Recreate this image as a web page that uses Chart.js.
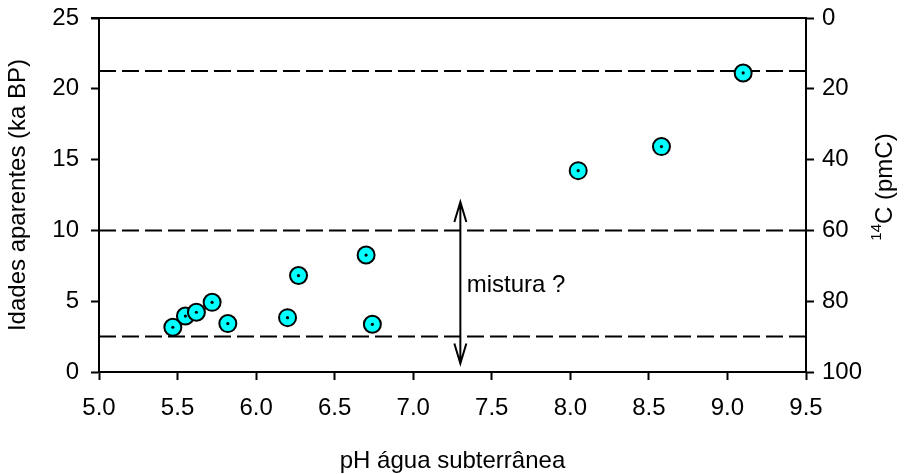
<!DOCTYPE html>
<html>
<head>
<meta charset="utf-8">
<script src="https://cdn.jsdelivr.net/npm/chart.js@4.4.1/dist/chart.umd.min.js"></script>
<style>
  html, body { margin: 0; padding: 0; background: #fff; }
  #ageChart { display: block; }
</style>
</head>
<body>
<canvas id="ageChart" width="906" height="474"></canvas>
<script>
// pH vs apparent age of groundwater samples
const phValues  = [5.47, 5.55, 5.62, 5.72, 5.82, 6.20, 6.27, 6.70, 6.74, 8.05, 8.58, 9.10];
const ageValues = [3.16, 3.95, 4.22, 4.92, 3.42, 3.84, 6.81, 8.26, 3.37, 14.22, 15.92, 21.12];

// reference ages (dashed lines): 90, 60 and 15 pmC
const refAges = [2.5, 10, 21.25];

// mixing arrow and its note
const arrowPh = 7.3;
const arrowRange = [0.6, 12];
const noteText = 'mistura ?';
const notePos = [7.34, 6.1];

const xTicks = [5.0, 5.5, 6.0, 6.5, 7.0, 7.5, 8.0, 8.5, 9.0, 9.5];
const ageTicks = [0, 5, 10, 15, 20, 25];
const pmcTicks = [0, 20, 40, 60, 80, 100];

const FONT = "'Liberation Sans', Arial, sans-serif";
const FS = 24;

const points = phValues.map((x, i) => ({ x: x, y: ageValues[i] }));

const refDatasets = refAges.map(a => ({
  type: 'line',
  data: [{ x: xTicks[0], y: a }, { x: xTicks[xTicks.length - 1], y: a }],
  borderColor: '#000',
  borderWidth: 2,
  borderDash: [17, 6],
  pointRadius: 0,
  fill: false,
  order: 3
}));

// fixed axis sizes so the plot box does not move with label sizes
function fixSize(prop, size) {
  return s => {
    s[prop] = size;
    s.paddingTop = s.paddingBottom = s.paddingLeft = s.paddingRight = 0;
  };
}

// frame top edge, arrow, note and right-hand title
const extras = {
  id: 'extras',
  afterDatasetsDraw(chart) {
    const { ctx, chartArea, scales } = chart;
    const x = scales.x, y = scales.y;
    ctx.save();
    ctx.strokeStyle = '#000';
    ctx.lineWidth = 2;
    ctx.beginPath();
    ctx.moveTo(chartArea.left - 8, chartArea.top);
    ctx.lineTo(chartArea.right, chartArea.top);
    ctx.stroke();

    // double-headed arrow
    const ax = x.getPixelForValue(arrowPh);
    const yLo = y.getPixelForValue(arrowRange[0]);
    const yHi = y.getPixelForValue(arrowRange[1]);
    ctx.beginPath();
    ctx.moveTo(ax, yLo);
    ctx.lineTo(ax, yHi);
    ctx.moveTo(ax - 6, yHi + 20);
    ctx.lineTo(ax, yHi);
    ctx.lineTo(ax + 6, yHi + 20);
    ctx.moveTo(ax - 6, yLo - 20);
    ctx.lineTo(ax, yLo);
    ctx.lineTo(ax + 6, yLo - 20);
    ctx.stroke();

    ctx.fillStyle = '#000';
    ctx.font = FS + 'px ' + FONT;
    ctx.textAlign = 'left';
    ctx.textBaseline = 'middle';
    ctx.fillText(noteText, x.getPixelForValue(notePos[0]), y.getPixelForValue(notePos[1]));

    // rotated title with superscript 14
    ctx.translate(885, (chartArea.top + chartArea.bottom) / 2 - 8);
    ctx.rotate(-Math.PI / 2);
    ctx.textBaseline = 'middle';
    const supFont = '15px ' + FONT;
    const mainFont = FS + 'px ' + FONT;
    ctx.font = supFont;
    const wSup = ctx.measureText('14').width;
    ctx.font = mainFont;
    const wMain = ctx.measureText('C (pmC)').width;
    let start = -(wSup + wMain) / 2;
    ctx.font = supFont;
    ctx.fillText('14', start, -8);
    ctx.font = mainFont;
    ctx.fillText('C (pmC)', start + wSup, 0);
    ctx.restore();
  }
};

const chart = new Chart(document.getElementById('ageChart'), {
  type: 'scatter',
  data: {
    datasets: [
      {
        data: points,
        pointRadius: 8.5,
        pointBackgroundColor: '#00ffff',
        pointBorderColor: '#000',
        pointBorderWidth: 2,
        order: 2
      },
      {
        data: points,
        pointRadius: 1.6,
        pointBackgroundColor: '#000',
        pointBorderWidth: 0,
        order: 1
      },
      ...refDatasets
    ]
  },
  options: {
    responsive: false,
    animation: false,
    layout: { padding: { top: 18, left: 0, right: 0, bottom: 0 } },
    plugins: {
      legend: { display: false },
      tooltip: { enabled: false }
    },
    scales: {
      x: {
        type: 'linear',
        min: 5,
        max: 9.5,
        afterBuildTicks: s => { s.ticks = xTicks.map(v => ({ value: v })); },
        afterFit: fixSize('height', 102),
        ticks: {
          color: '#000',
          padding: 14,
          maxRotation: 0,
          font: { family: FONT, size: FS },
          callback: v => Number(v).toFixed(1)
        },
        grid: { drawOnChartArea: false, tickLength: 8, tickWidth: 2, color: '#000' },
        border: { color: '#000', width: 2 },
        title: {
          display: true,
          text: 'pH água subterrânea',
          color: '#000',
          font: { family: FONT, size: FS, lineHeight: 1 },
          padding: { top: 0, bottom: 1 }
        }
      },
      y: {
        type: 'linear',
        position: 'left',
        min: 0,
        max: 25,
        afterBuildTicks: s => { s.ticks = ageTicks.map(v => ({ value: v })); },
        afterFit: fixSize('width', 99),
        ticks: {
          color: '#000',
          padding: 12,
          font: { family: FONT, size: FS }
        },
        grid: { drawOnChartArea: false, tickLength: 8, tickWidth: 2, color: '#000' },
        border: { color: '#000', width: 2 },
        title: {
          display: true,
          text: 'Idades aparentes (ka BP)',
          color: '#000',
          font: { family: FONT, size: FS, lineHeight: 1 },
          padding: { top: 6, bottom: 0 }
        }
      },
      y2: {
        type: 'linear',
        position: 'right',
        reverse: true,
        min: 0,
        max: 100,
        afterBuildTicks: s => { s.ticks = pmcTicks.map(v => ({ value: v })); },
        afterFit: fixSize('width', 100),
        ticks: {
          color: '#000',
          padding: 8,
          font: { family: FONT, size: FS }
        },
        grid: { drawOnChartArea: false, tickLength: 8, tickWidth: 2, color: '#000' },
        border: { color: '#000', width: 2 }
      }
    }
  },
  plugins: [extras]
});
</script>
</body>
</html>
